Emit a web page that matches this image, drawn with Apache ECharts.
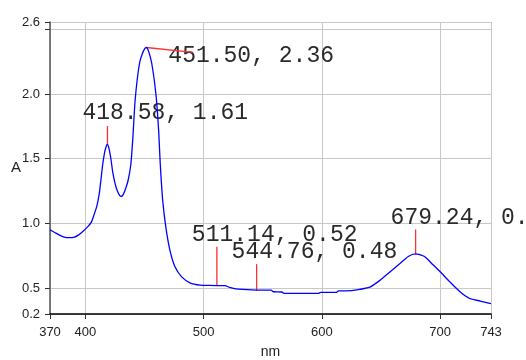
<!DOCTYPE html>
<html>
<head>
<meta charset="utf-8">
<script src="https://cdn.jsdelivr.net/npm/echarts@6/dist/echarts.min.js"></script>
<style>html,body{margin:0;padding:0;background:#fff;}#c{width:526px;height:360px;}</style>
</head>
<body>
<div id="c"></div>
<script>
const wavelength = [370,374,378,382,386,390,394,398,402,405,407,409.5,411.5,413,414.5,416,417.5,418.58,420,421.5,423,425,427,429,430.5,432,434,436,438.3,440,441.9,444,446,448,450,451.5,453,455,456,458,460.2,462,463.2,465.3,468,471.5,475.7,481.4,488.4,497,505,511.14,518,522,527,533,544.76,557,559,566,568,597,599,612,614,625,632,641,649,657.5,666,673,679.24,682,687,694,700,708,717,725,734,743];
const absorbance = [0.95,0.93,0.91,0.895,0.89,0.893,0.91,0.94,0.975,1.01,1.06,1.13,1.22,1.33,1.45,1.54,1.595,1.61,1.575,1.50,1.40,1.31,1.25,1.215,1.21,1.225,1.27,1.33,1.45,1.65,1.94,2.13,2.25,2.31,2.35,2.36,2.34,2.28,2.24,2.12,1.94,1.70,1.47,1.18,0.97,0.79,0.665,0.587,0.541,0.523,0.521,0.52,0.52,0.505,0.495,0.49,0.485,0.485,0.472,0.47,0.46,0.46,0.467,0.467,0.478,0.48,0.49,0.51,0.56,0.625,0.69,0.745,0.765,0.76,0.742,0.68,0.626,0.55,0.47,0.42,0.40,0.38];

const peakWavelength = [418.58, 451.50, 511.14, 544.76, 679.24];
const peakAbsorbance = [1.61, 2.36, 0.52, 0.48, 0.76];

const xMin = 370, xMax = 743;
const xTickValues = [370, 400, 500, 600, 700, 743];
const yMin = 0.3, yMax = 2.557;
const yTickValues = [0.3, 0.5, 1.0, 1.5, 2.0, 2.5, 2.557];
const yLabelValues = [0.3, 0.5, 1.0, 1.5, 2.0, 2.557];
const yLabelTexts = ['0.2', '0.5', '1.0', '1.5', '2.0', '2.6'];
const xName = 'nm', yName = 'A';

// layout: [text dx, text dy (center), line end dx, line end dy] in pixels from the peak
const labelLayout = [[-25,-32,0,-18.5],[22,8.5,47,4.8],[-25,-51,0,-38.7],[-25,-39,0,-26.6],[-25,-37,0,-25]];

const chart = echarts.init(document.getElementById('c'), null, {renderer:'canvas'});
const spectrum = wavelength.map((w,i)=>[w, absorbance[i]]);
const peaks = peakWavelength.map((w,i)=>[w, peakAbsorbance[i]]);

const labelFont = {fontFamily:'"Liberation Sans", Arial, sans-serif', fontSize:13, color:'#222'};

chart.setOption({
  animation:false,
  backgroundColor:'#fff',
  grid:{left:50, right:35, top:22, bottom:46, containLabel:false, outerBoundsMode:'none'},
  xAxis:{
    type:'value', min:xMin, max:xMax,
    name:xName, nameLocation:'middle', nameGap:31, nameMoveOverlap:false,
    nameTextStyle:{fontFamily:'"Liberation Sans", Arial, sans-serif', fontSize:14, color:'#222'},
    axisLine:{show:true, onZero:false, lineStyle:{color:'#000', width:1.5}},
    axisTick:{show:true, length:5, customValues:xTickValues, lineStyle:{color:'#333'}},
    axisLabel:Object.assign({margin:12, customValues:xTickValues}, labelFont),
    splitLine:{show:true, lineStyle:{color:'#c8c8c8', width:1}}
  },
  yAxis:{
    type:'value', min:yMin, max:yMax,
    name:yName, nameLocation:'middle', nameGap:29, nameRotate:0, nameMoveOverlap:false,
    nameTextStyle:{fontFamily:'"Liberation Sans", Arial, sans-serif', fontSize:15, color:'#222', padding:[16,0,0,0]},
    axisLine:{show:true, onZero:false, lineStyle:{color:'#555', width:1.5}},
    axisTick:{show:true, length:5, customValues:yTickValues, lineStyle:{color:'#333'}},
    axisLabel:Object.assign({margin:10, customValues:yLabelValues, padding:[0,0,7,0],
      formatter:function(v){
        let best=0; for(let i=0;i<yLabelValues.length;i++){ if(Math.abs(yLabelValues[i]-v)<Math.abs(yLabelValues[best]-v)) best=i; }
        return yLabelTexts[best];
      }}, labelFont),
    splitLine:{show:true, lineStyle:{color:'#c8c8c8', width:1}}
  },
  series:[
    {
      type:'custom', z:1, clip:false,
      data:peaks,
      encode:{x:0, y:1},
      renderItem:function(params, api){
        const i = params.dataIndex;
        const p = api.coord([api.value(0), api.value(1)]);
        const L = labelLayout[i];
        return {type:'group', children:[
          {type:'text', x:p[0]+L[0], y:p[1]+L[1], style:{
            text: peakWavelength[i].toFixed(2) + ', ' + peakAbsorbance[i].toFixed(2),
            fontFamily:'"Liberation Mono", monospace', fontSize:23, fill:'#2a2a2a',
            align:'left', verticalAlign:'middle'}},
          {type:'line', shape:{x1:p[0], y1:p[1], x2:p[0]+L[2], y2:p[1]+L[3]},
            style:{stroke:'#ff3030', lineWidth:1.3}}
        ]};
      }
    },
    {
      type:'line', z:2, data:spectrum, showSymbol:false, smooth:0.2,
      lineStyle:{color:'#0000ff', width:1.3}, silent:true
    }
  ]
});
</script>
</body>
</html>
